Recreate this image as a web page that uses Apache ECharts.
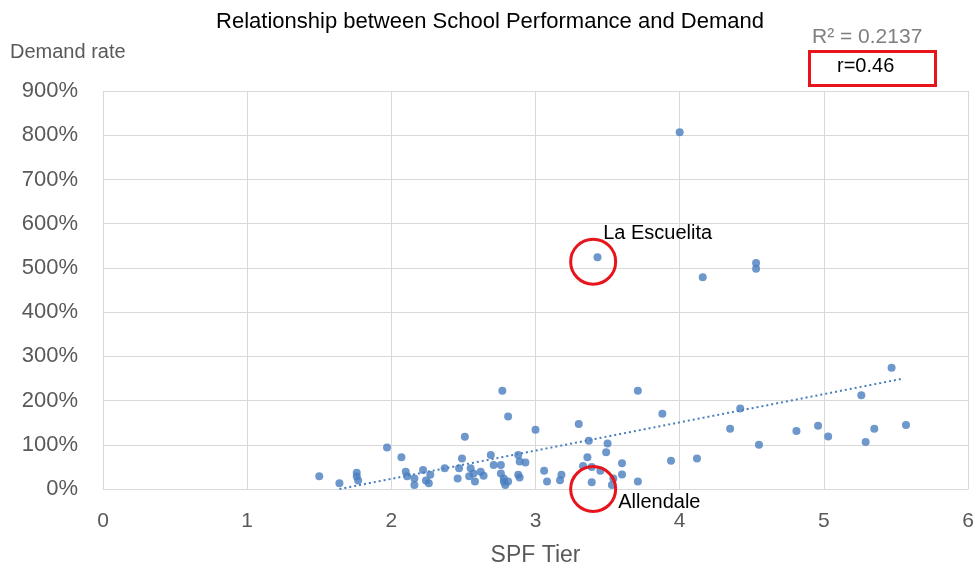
<!DOCTYPE HTML>
<html>
<head>
<meta charset="utf-8">
<title>Relationship between School Performance and Demand</title>
<script src="https://cdn.jsdelivr.net/npm/echarts@6/dist/echarts.min.js"></script>
<style>
html, body { margin:0; padding:0; background:#fff; }
#main { width:980px; height:569px; }
</style>
</head>
<body>
<div id="main"></div>
<script type="text/javascript">
// SPF tier (x) and demand rate in % (y)
var spfTier = [1.50,1.64,1.76,1.77,1.76,1.97,2.07,2.10,2.11,2.16,2.16,2.22,2.24,2.27,2.26,2.37,2.46,2.47,2.49,2.51,
	2.54,2.55,2.57,2.58,2.62,2.64,2.69,2.71,2.76,2.76,2.78,2.78,2.81,2.77,2.81,2.79,2.88,2.89,2.93,2.88,2.89,
	3.00,3.06,3.08,3.17,3.18,3.30,3.37,3.36,3.33,3.39,3.45,3.39,3.50,3.49,3.60,3.60,3.54,3.53,3.71,3.71,3.88,
	3.94,4.12,4.35,4.42,4.55,4.81,4.96,5.03,5.26,5.29,5.35,5.47,5.57,4.00,3.43,4.16,4.53,4.53];
var demandRate = [29,13,37,19,28,94,72,39,29,24,9,43,19,32,13,47,24,47,69,118,
	29,47,35,17,39,30,77,54,54,35,17,24,17,222,164,9,77,62,60,32,26,
	134,41,17,20,32,147,109,72,52,50,41,15,103,83,58,33,24,9,17,222,170,
	64,69,136,182,100,131,143,119,212,106,136,274,145,807,524,479,511,498];
// dotted trend line ends
var trendX = [1.64, 5.54];
var trendY = [0, 249];
// annotated schools
var callouts = [
	{ name:'La Escuelita', x:3.40, y:514, labelPos:[34,-14] },
	{ name:'Allendale', x:3.40, y:0, labelPos:[49,27] }
];
var xTicks = [0,1,2,3,4,5,6];

var points = [];
for (var i = 0; i < spfTier.length; i++) points.push([spfTier[i], demandRate[i]]);
var trend = [[trendX[0], trendY[0]], [trendX[1], trendY[1]]];

var fontFam = '"Liberation Sans", Arial, sans-serif';
var myChart = echarts.init(document.getElementById('main'), null, {renderer:'canvas'});

var option = {
	animation: false,
	title: {
		text: 'Relationship between School Performance and Demand',
		left: 'center', top: 6,
		textStyle: { fontSize: 22, fontWeight: 'normal', color: '#000', fontFamily: fontFam }
	},
	grid: { left: 103, right: 12, top: 91, bottom: 80, outerBoundsMode: 'none' },
	xAxis: {
		type: 'value', min: 0, max: 6, interval: 1,
		name: 'SPF Tier', nameLocation: 'middle', nameGap: 55,
		nameTextStyle: { fontSize: 23, color: '#595959', fontFamily: fontFam },
		axisLine: { show: true, lineStyle: { color: '#d9d9d9', width: 1 } },
		axisTick: { show: false },
		axisLabel: { fontSize: 21, color: '#595959', margin: 22, fontFamily: fontFam,
			formatter: function (v) { return xTicks.indexOf(v) >= 0 ? String(v) : ''; } },
		splitLine: { show: true, lineStyle: { color: '#d9d9d9', width: 1 } }
	},
	yAxis: {
		type: 'value', min: 0, max: 900, interval: 100,
		axisLine: { show: false },
		axisTick: { show: false },
		axisLabel: { fontSize: 22, color: '#595959', margin: 25, fontFamily: fontFam, formatter: '{value}%' },
		splitLine: { show: true, lineStyle: { color: '#d9d9d9', width: 1 } }
	},
	series: [
		{
			type: 'line', data: trend, symbol: 'none', silent: true, z: 1,
			lineStyle: { color: '#4a7ebf', width: 2, type: [2, 3] }
		},
		{
			type: 'scatter', data: points, symbol: 'circle', symbolSize: 8, z: 3,
			itemStyle: { color: '#4a7ebf' },
			markPoint: {
				symbol: 'circle', symbolSize: 45, silent: true,
				itemStyle: { color: 'rgba(0,0,0,0)', borderColor: '#e8141b', borderWidth: 3 },
				data: callouts.map(function (c) {
					return {
						name: c.name, coord: [c.x, c.y],
						label: { show: true, formatter: c.name, position: c.labelPos,
							fontSize: 20, color: '#000', fontFamily: fontFam }
					};
				})
			}
		}
	],
	graphic: [
		{ type: 'text', left: 10, top: 42,
			style: { text: 'Demand rate', fontSize: 20, fill: '#595959', fontFamily: fontFam } },
		{ type: 'text', left: 812, top: 27,
			style: { text: 'R² = 0.2137', fontSize: 21, fill: '#7f7f7f', fontFamily: fontFam } },
		{ type: 'rect', left: 808, top: 50,
			shape: { width: 126, height: 34 },
			style: { fill: '#fff', stroke: '#e8141b', lineWidth: 3 } },
		{ type: 'text', left: 837, top: 56,
			style: { text: 'r=0.46', fontSize: 20, fill: '#000', fontFamily: fontFam } }
	]
};
myChart.setOption(option);
</script>
</body>
</html>
